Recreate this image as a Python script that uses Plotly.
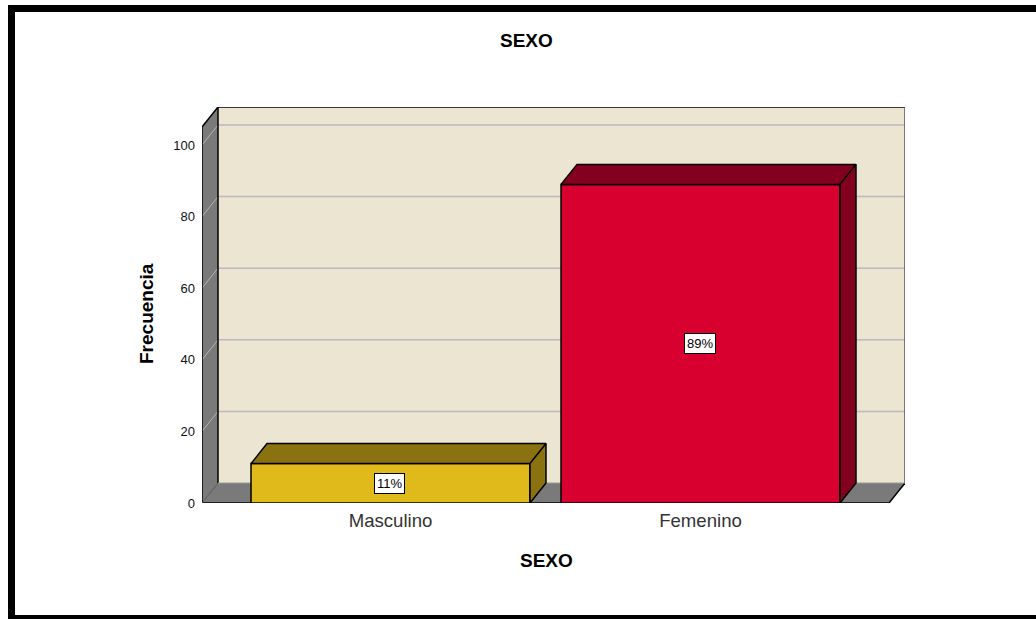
import plotly.graph_objects as go

# Data
categories = ["Masculino", "Femenino"]
frequencies = [11, 89]
percent_labels = ["11%", "89%"]
y_ticks = [0, 20, 40, 60, 80, 100]
chart_title = "SEXO"
x_title = "SEXO"
y_title = "Frecuencia"

# Styles
front_colors = ["#e0b91b", "#d8002f"]
dark_colors = ["#8a7210", "#84001f"]
WALL = "#7a7a7a"
BACK = "#ebe5d1"
GRID = "#bcb9c0"
W, H = 1036, 619
L, R, T, B = 202, 905, 107, 503
PX_X = 310.0     # pixels per category step
PX_Y = 3.58      # pixels per frequency unit
X0 = (390.5 - L) / PX_X
XMIN, XMAX = -X0, (R - L) / PX_X - X0
YMAX = (B - T) / PX_Y
DX, DY = 16 / PX_X, 20 / PX_Y
BAR_W = 0.9
FONT = "Liberation Sans, Arial, sans-serif"
XFRONT = (889 - L) / PX_X - X0

xs = list(range(len(categories)))
fig = go.Figure()
fig.add_trace(go.Bar(
    x=xs, y=frequencies, width=BAR_W,
    marker=dict(color=front_colors, line=dict(color="#000000", width=1.5)),
    cliponaxis=False, hoverinfo="skip", showlegend=False,
))
for x, v, dark in zip(xs, frequencies, dark_colors):
    a, b = x - BAR_W / 2, x + BAR_W / 2
    fig.add_trace(go.Scatter(
        x=[a, a + DX, b + DX, b, a], y=[v, v + DY, v + DY, v, v],
        mode="lines", fill="toself", fillcolor=dark,
        line=dict(color="#000000", width=1.5), cliponaxis=False,
        hoverinfo="skip", showlegend=False,
    ))
    fig.add_trace(go.Scatter(
        x=[b, b + DX, b + DX, b, b], y=[0, DY, v + DY, v, 0],
        mode="lines", fill="toself", fillcolor=dark,
        line=dict(color="#000000", width=1.5), cliponaxis=False,
        hoverinfo="skip", showlegend=False,
    ))

def poly(pts):
    return "M " + " L ".join(f"{a},{b}" for a, b in pts) + " Z"

shapes = []
# back wall, left wall, floor
shapes.append(dict(type="path", layer="below", xref="x", yref="y", fillcolor=BACK, line=dict(width=0),
                   path=poly([(XMIN + DX, DY), (XMIN + DX, YMAX), (XMAX, YMAX), (XMAX, DY)])))
shapes.append(dict(type="path", layer="below", xref="x", yref="y", fillcolor=WALL, line=dict(width=0),
                   path=poly([(XMIN, 0), (XMIN + DX, DY), (XMIN + DX, YMAX), (XMIN, YMAX - DY)])))
shapes.append(dict(type="path", layer="below", xref="x", yref="y", fillcolor=WALL, line=dict(width=0),
                   path=poly([(XMIN, 0), (XMIN + DX, DY), (XMAX, DY), (XFRONT, 0)])))
# grid lines
for t in y_ticks[1:]:
    shapes.append(dict(type="line", layer="below", xref="x", yref="y", x0=XMIN + DX, x1=XMAX,
                       y0=t + DY, y1=t + DY, line=dict(color=GRID, width=1.5)))
    shapes.append(dict(type="line", layer="below", xref="x", yref="y", x0=XMIN, x1=XMIN + DX,
                       y0=t, y1=t + DY, line=dict(color="#b4b4b4", width=1)))
# edges
black = dict(color="#000000", width=1.5)
for (x0, y0, x1, y1, ln) in [
    (XMIN, 0, XFRONT, 0, black),
    (XMIN, 0, XMIN, YMAX - DY, black),
    (XMIN, YMAX - DY, XMIN + DX, YMAX, black),
    (XMIN + DX, YMAX, XMAX, YMAX, black),
    (XMIN + DX, DY, XMIN + DX, YMAX, black),
    (XMIN, 0, XMIN + DX, DY, dict(color="#555555", width=1)),
    (XFRONT, 0, XMAX, DY, black),
    (XMAX, DY, XMAX, YMAX, dict(color="#555555", width=1.5)),
    (XMIN + DX, DY, XMAX, DY, dict(color="#999999", width=1)),
]:
    shapes.append(dict(type="line", layer="below", xref="x", yref="y",
                       x0=x0, y0=y0, x1=x1, y1=y1, line=ln))

def px(x):
    return (x - L) / (R - L)
def py(y):
    return (B - y) / (B - T)

# outer frame
shapes.append(dict(type="rect", xref="paper", yref="paper", layer="above",
                   x0=px(11.5), x1=px(W + 10), y0=py(8.5), y1=py(618.5),
                   line=dict(color="#000000", width=7), fillcolor="rgba(0,0,0,0)"))

annotations = []
for x, v, lab in zip(xs, frequencies, percent_labels):
    annotations.append(dict(x=x, y=v / 2, xref="x", yref="y", text=lab, showarrow=False,
                            font=dict(family=FONT, size=13, color="#000000"),
                            bgcolor="#ffffff", bordercolor="#000000", borderwidth=1, borderpad=2, xshift=-1))
title_font = dict(family=FONT, size=19, color="#000000")
center = dict(xanchor="center", yanchor="middle", xref="paper", yref="paper", showarrow=False, font=title_font)
annotations.append(dict(x=px(526.5), y=py(40), text=f"<b>{chart_title}</b>", **center))
annotations.append(dict(x=px(546), y=py(560), text=f"<b>{x_title}</b>", **center))
annotations.append(dict(x=px(146), y=py(314), text=f"<b>{y_title}</b>", textangle=-90, **center))

fig.update_layout(
    width=W, height=H, autosize=False,
    margin=dict(l=L, r=W - R, t=T, b=H - B, pad=0),
    paper_bgcolor="#ffffff", plot_bgcolor="#ffffff",
    showlegend=False, shapes=shapes, annotations=annotations,
    xaxis=dict(range=[XMIN, XMAX], tickvals=xs, ticktext=categories, showgrid=False, zeroline=False,
               showline=False, ticks="", ticklabelstandoff=4,
               tickfont=dict(family=FONT, size=18.6, color="#333333")),
    yaxis=dict(range=[0, YMAX], tickvals=y_ticks, showgrid=False, zeroline=False,
               showline=False, ticks="", ticklabelstandoff=6,
               tickfont=dict(family=FONT, size=13, color="#111111")),
)
fig.write_html("out.html", config=dict(displayModeBar=False),
               post_script="document.body.style.margin='0';document.body.style.overflow='hidden';")
